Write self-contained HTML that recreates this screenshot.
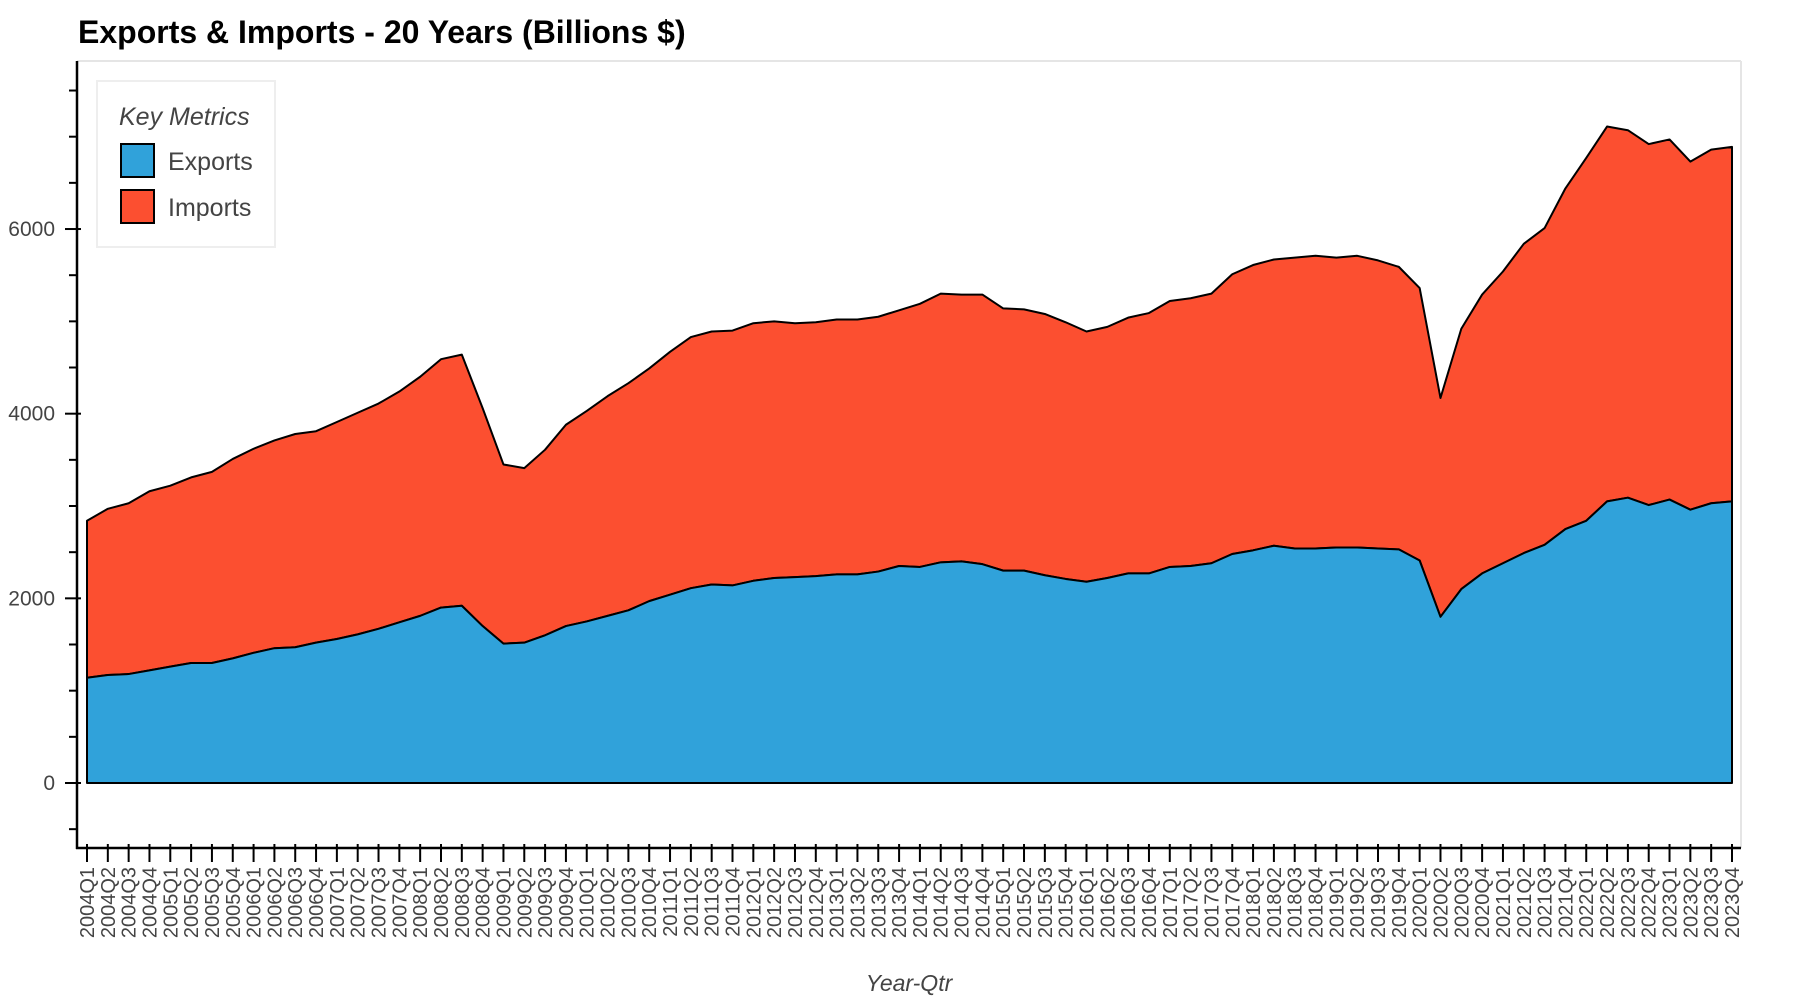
<!DOCTYPE html>
<html><head><meta charset="utf-8"><style>
body{margin:0;background:#fff;}
svg{display:block;font-family:"Liberation Sans",sans-serif;}
</style></head><body>
<svg id="chart" width="1800" height="1000" xmlns="http://www.w3.org/2000/svg">
<text x="78" y="43" font-size="32" font-weight="bold" fill="#000">Exports &amp; Imports - 20 Years (Billions $)</text>
<line x1="77" y1="61" x2="1741" y2="61" stroke="#e5e5e5" stroke-width="2"/>
<line x1="1741" y1="61" x2="1741" y2="848" stroke="#e5e5e5" stroke-width="2"/>
<g id="areas"></g>
<g id="yaxis"></g>
<g id="xaxis"></g>
<text x="909" y="991" font-size="23" font-style="italic" fill="#444" text-anchor="middle">Year-Qtr</text>
<g>
<rect x="97" y="81" width="178" height="166" fill="#fff" stroke="#eee" stroke-width="2"/>
<text x="119" y="125" font-size="25" font-style="italic" fill="#444">Key Metrics</text>
<rect x="121" y="144" width="33" height="33" fill="#30a2da" stroke="#000" stroke-width="2"/>
<text x="168" y="170" font-size="25" fill="#444">Exports</text>
<rect x="121" y="190" width="33" height="33" fill="#fc4f30" stroke="#000" stroke-width="2"/>
<text x="168" y="216" font-size="25" fill="#444">Imports</text>
</g>
</svg>
<script>
const years = [2004,2005,2006,2007,2008,2009,2010,2011,2012,2013,2014,2015,2016,2017,2018,2019,2020,2021,2022,2023];
const quarters = ["Q1","Q2","Q3","Q4"];
const exportsData = [1140,1170,1180,1220, 1260,1300,1300,1350, 1410,1460,1470,1520, 1560,1610,1670,1740,
 1810,1900,1920,1700, 1510,1520,1600,1700, 1750,1810,1870,1970, 2040,2110,2150,2140,
 2190,2220,2230,2240, 2260,2260,2290,2350, 2340,2390,2400,2370, 2300,2300,2250,2210,
 2180,2220,2270,2270, 2340,2350,2380,2480, 2520,2570,2540,2540, 2550,2550,2540,2530,
 2410,1800,2100,2270, 2380,2490,2580,2750, 2840,3050,3090,3010, 3070,2960,3030,3050];
const importsData = [1700,1800,1850,1940, 1960,2010,2070,2160, 2210,2250,2310,2290, 2350,2400,2440,2500,
 2590,2690,2720,2360, 1940,1890,2010,2180, 2280,2380,2460,2520, 2630,2720,2740,2760,
 2790,2780,2750,2750, 2760,2760,2760,2770, 2850,2910,2890,2920, 2840,2830,2830,2780,
 2710,2720,2770,2820, 2880,2900,2920,3030, 3090,3100,3150,3170, 3140,3160,3120,3060,
 2950,2370,2820,3020, 3160,3350,3430,3690, 3930,4060,3980,3910, 3900,3770,3830,3840];
const yTickLabels = [0,2000,4000,6000];

const categories = [];
years.forEach(y => quarters.forEach(q => categories.push(y + q)));
const NS = "http://www.w3.org/2000/svg";
const X0 = 87, X1 = 1732;
const xs = i => X0 + (X1 - X0) * i / (categories.length - 1);
const ys = v => 783 - v * 0.09233;
function mk(tag, attrs, parent){const e=document.createElementNS(NS,tag);for(const k in attrs)e.setAttribute(k,attrs[k]);parent.appendChild(e);return e;}

const areas = document.getElementById('areas');
const totals = exportsData.map((v,i)=>v+importsData[i]);
const topPts = totals.map((v,i)=>xs(i)+','+ys(v));
const midPts = exportsData.map((v,i)=>xs(i)+','+ys(v));
const redPts = topPts.concat(midPts.slice().reverse()).join(' ');
const red = mk('polygon',{points:redPts,fill:'#fc4f30',stroke:'#000','stroke-width':2,'stroke-linejoin':'round'},areas);


const bluePts = midPts.concat([xs(categories.length-1)+','+ys(0), xs(0)+','+ys(0)]).join(' ');
const blue = mk('polygon',{points:bluePts,fill:'#30a2da',stroke:'#000','stroke-width':2,'stroke-linejoin':'round'},areas);



const yaxis = document.getElementById('yaxis');
mk('line',{x1:77,y1:61,x2:77,y2:849,stroke:'#000','stroke-width':2.5},yaxis);
for(let v=-500; v<=7500; v+=500){
  const y = ys(v);
  const major = yTickLabels.includes(v);
  mk('line',{x1:major?65:69,y1:y,x2:major?81:77,y2:y,stroke:'#000','stroke-width':2},yaxis);
}
yTickLabels.forEach(v=>{
  const t = mk('text',{x:55,y:ys(v)+7,'font-size':21,fill:'#444','text-anchor':'end'},yaxis);
  t.textContent = v;
  
  
});

const xaxis = document.getElementById('xaxis');
mk('line',{x1:76,y1:848,x2:1741,y2:848,stroke:'#000','stroke-width':2.5},xaxis);
categories.forEach((c,i)=>{
  const x = xs(i);
  mk('line',{x1:x,y1:844,x2:x,y2:862,stroke:'#000','stroke-width':2},xaxis);
  const t = mk('text',{x:0,y:0,'font-size':20,fill:'#444','text-anchor':'end',transform:`translate(${x+7},867) rotate(-90)`},xaxis);
  t.textContent = c;
  
  
});
</script>
</body></html>
